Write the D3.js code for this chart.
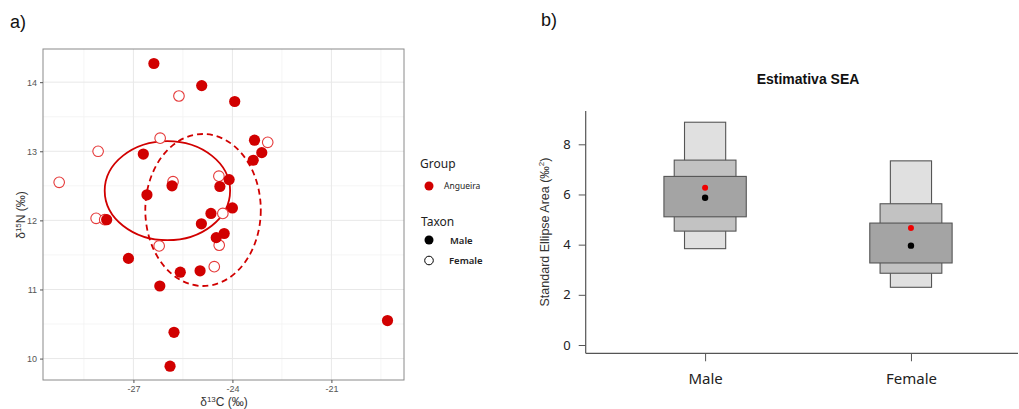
<!DOCTYPE html>
<html><head><meta charset="utf-8">
<script src="https://cdn.jsdelivr.net/npm/d3@7"></script>
<style>body{margin:0;background:#fff}svg{display:block}</style>
</head><body>
<svg id="c" width="1019" height="409"></svg>
<script>
// ---------- Panel a data ----------
const maleC = [-26.38,-24.93,-23.93,-23.33,-23.11,-23.37,-26.70,-24.10,-25.83,-24.38,-26.59,-24.00,-24.65,-27.81,-24.94,-24.25,-24.49,-27.15,-25.58,-24.98,-26.20,-19.30,-25.77,-25.89];
const maleN = [14.27,13.95,13.72,13.16,12.98,12.87,12.96,12.59,12.50,12.49,12.37,12.18,12.10,12.01,11.95,11.81,11.75,11.45,11.25,11.27,11.05,10.55,10.38,9.89];
const femaleC = [-25.62,-26.19,-28.07,-22.93,-29.25,-25.80,-24.41,-28.13,-27.87,-24.29,-26.22,-24.40,-24.55];
const femaleN = [13.80,13.19,13.00,13.13,12.55,12.56,12.64,12.03,12.01,12.10,11.63,11.64,11.33];
// standard ellipses: [centerC, centerN, semiC, semiN]
const ellipseTaxa = ["Male","Female"];
const ellipseCenterC = [-25.97,-24.89];
const ellipseCenterN = [12.43,12.15];
const ellipseSemiC = [1.90,1.75];
const ellipseSemiN = [0.717,1.10];
const xTicksA = [-27,-24,-21];
const xMinorA = [-28.5,-25.5,-22.5,-19.5];
const yTicksA = [10,11,12,13,14];
const yMinorA = [10.5,11.5,12.5,13.5];

// ---------- Panel b data ----------
const seaGroups = ["Male","Female"];
const sea95Lo = [3.84,2.30], sea95Hi = [8.88,7.34];
const sea75Lo = [4.54,2.86], sea75Hi = [7.37,5.63];
const sea50Lo = [5.11,3.27], sea50Hi = [6.72,4.86];
const seaMode = [5.87,3.96];
const seaML = [6.27,4.66];
const yTicksB = [0,2,4,6,8];

const svg = d3.select("#c");
const RED = "#d10000";

// ===== Panel a =====
const xA = d3.scaleLinear().domain([-29.74,-18.8]).range([43,404]);
const yA = d3.scaleLinear().domain([9.69,14.48]).range([380,49]);
const gA = svg.append("g");

gA.selectAll(".mnx").data(xMinorA).join("line")
  .attr("x1",d=>xA(d)).attr("x2",d=>xA(d)).attr("y1",49).attr("y2",380)
  .attr("stroke","#f3f3f3").attr("stroke-width",0.8);
gA.selectAll(".mny").data(yMinorA).join("line")
  .attr("y1",d=>yA(d)).attr("y2",d=>yA(d)).attr("x1",43).attr("x2",404)
  .attr("stroke","#f3f3f3").attr("stroke-width",0.8);
gA.selectAll(".mjx").data(xTicksA).join("line")
  .attr("x1",d=>xA(d)).attr("x2",d=>xA(d)).attr("y1",49).attr("y2",380)
  .attr("stroke","#e8e8e8").attr("stroke-width",1);
gA.selectAll(".mjy").data(yTicksA).join("line")
  .attr("y1",d=>yA(d)).attr("y2",d=>yA(d)).attr("x1",43).attr("x2",404)
  .attr("stroke","#e8e8e8").attr("stroke-width",1);

// ellipses
gA.selectAll(".ell").data(ellipseTaxa).join("ellipse")
  .attr("cx",(d,i)=>xA(ellipseCenterC[i]))
  .attr("cy",(d,i)=>yA(ellipseCenterN[i]))
  .attr("rx",(d,i)=>xA(ellipseCenterC[i]+ellipseSemiC[i])-xA(ellipseCenterC[i]))
  .attr("ry",(d,i)=>yA(ellipseCenterN[i])-yA(ellipseCenterN[i]+ellipseSemiN[i]))
  .attr("fill","none").attr("stroke",RED).attr("stroke-width",1.8)
  .attr("stroke-dasharray",(d,i)=>i===1?"6,4":null);

// points
gA.selectAll(".fem").data(femaleC).join("circle")
  .attr("cx",d=>xA(d)).attr("cy",(d,i)=>yA(femaleN[i])).attr("r",5.3)
  .attr("fill","#fff").attr("stroke","#e53a3a").attr("stroke-width",1.1);
gA.selectAll(".mal").data(maleC).join("circle")
  .attr("cx",d=>xA(d)).attr("cy",(d,i)=>yA(maleN[i])).attr("r",5.6)
  .attr("fill",RED);

gA.append("rect").attr("x",43).attr("y",49).attr("width",361).attr("height",331)
  .attr("fill","none").attr("stroke","#8a8a8a").attr("stroke-width",1);

const axXA = gA.append("g").attr("transform","translate(0,380)")
  .call(d3.axisBottom(xA).tickValues(xTicksA).tickSize(3).tickPadding(3).tickFormat(d3.format("d")));
const axYA = gA.append("g").attr("transform","translate(43,0)")
  .call(d3.axisLeft(yA).tickValues(yTicksA).tickSize(3).tickPadding(3).tickFormat(d3.format("d")));
[axXA,axYA].forEach(a=>{
  a.select(".domain").remove();
  a.selectAll(".tick line").attr("stroke","#555");
  a.selectAll("text").attr("fill","#555").attr("font-size","9px").attr("font-family","Liberation Sans, Arial, sans-serif");
});
axXA.selectAll("text").text(d=>"-"+Math.abs(d));

// axis titles a
const xt = gA.append("text").attr("x",224).attr("y",406).attr("text-anchor","middle")
  .attr("font-family","Liberation Sans, Arial, sans-serif").attr("font-size","12px").attr("fill","#333");
xt.append("tspan").text("δ");
xt.append("tspan").attr("font-size","8px").attr("dy","-4").text("13");
xt.append("tspan").attr("dy","4").text("C (‰)");
const yt = gA.append("text").attr("transform","translate(25,215) rotate(-90)").attr("text-anchor","middle")
  .attr("font-family","Liberation Sans, Arial, sans-serif").attr("font-size","12px").attr("fill","#333");
yt.append("tspan").text("δ");
yt.append("tspan").attr("font-size","8px").attr("dy","-4").text("15");
yt.append("tspan").attr("dy","4").text("N (‰)");

svg.append("text").attr("x",10).attr("y",28).text("a)")
  .attr("font-family","Liberation Sans, Arial, sans-serif").attr("font-size","18px").attr("fill","#111");

// legend a
const lg = svg.append("g").attr("font-family","Noto Sans, sans-serif").attr("fill","#222");
lg.append("text").attr("x",420).attr("y",168).attr("font-size","12px").text("Group");
lg.append("circle").attr("cx",429).attr("cy",186).attr("r",4.5).attr("fill",RED);
lg.append("text").attr("x",444).attr("y",189).attr("font-size","8.5px").text("Angueira");
lg.append("text").attr("x",421).attr("y",226).attr("font-size","12px").text("Taxon");
lg.append("circle").attr("cx",429).attr("cy",240).attr("r",4.5).attr("fill","#000");
lg.append("text").attr("x",450).attr("y",243.5).attr("font-size","9.5px").attr("font-weight","600").text("Male");
lg.append("circle").attr("cx",429).attr("cy",260.5).attr("r",4.3).attr("fill","none").attr("stroke","#000").attr("stroke-width",1);
lg.append("text").attr("x",449).attr("y",264).attr("font-size","9.5px").attr("font-weight","600").text("Female");

// ===== Panel b =====
const xB = d3.scaleLinear().domain([0.42,2.52]).range([585.7,1018]);
const yB = d3.scaleLinear().domain([0,8]).range([345,144.3]);
const gB = svg.append("g");
const idx = seaGroups.map((d,i)=>i+1);
const layers = [
  {lo:sea95Lo,hi:sea95Hi,w:0.1,fill:"#e0e0e0"},
  {lo:sea75Lo,hi:sea75Hi,w:0.15,fill:"#c2c2c2"},
  {lo:sea50Lo,hi:sea50Hi,w:0.2,fill:"#a4a4a4"}
];
layers.forEach(L=>{
  gB.selectAll(null).data(idx).join("rect")
    .attr("x",d=>xB(d-L.w)).attr("width",d=>xB(d+L.w)-xB(d-L.w))
    .attr("y",(d,i)=>yB(L.hi[i])).attr("height",(d,i)=>yB(L.lo[i])-yB(L.hi[i]))
    .attr("fill",L.fill).attr("stroke","#555").attr("stroke-width",1.1);
});
gB.selectAll(".ml").data(idx).join("circle")
  .attr("cx",d=>xB(d)).attr("cy",(d,i)=>yB(seaML[i])).attr("r",3).attr("fill","#f00000");
gB.selectAll(".md").data(idx).join("circle")
  .attr("cx",d=>xB(d)).attr("cy",(d,i)=>yB(seaMode[i])).attr("r",3.2).attr("fill","#000");

// axes b
gB.append("line").attr("x1",xB(0.42)).attr("x2",xB(0.42)).attr("y1",yB(9.33)).attr("y2",yB(-0.33))
  .attr("stroke","#555").attr("stroke-width",1.2);
gB.append("line").attr("x1",xB(0.42)).attr("x2",1018).attr("y1",yB(-0.33)).attr("y2",yB(-0.33))
  .attr("stroke","#555").attr("stroke-width",1.2);
const axYB = gB.append("g").attr("transform",`translate(${xB(0.42)},0)`)
  .call(d3.axisLeft(yB).tickValues(yTicksB).tickSize(7).tickPadding(8).tickFormat(d3.format("d")));
axYB.select(".domain").remove();
axYB.selectAll(".tick line").attr("stroke","#555");
axYB.selectAll("text").attr("font-size","13px").attr("font-family","Noto Sans, sans-serif").attr("fill","#222");
const axXB = gB.append("g").attr("transform",`translate(0,${yB(-0.33)})`)
  .call(d3.axisBottom(xB).tickValues(idx).tickSize(8).tickPadding(12).tickFormat((d)=>seaGroups[d-1]));
axXB.select(".domain").remove();
axXB.selectAll(".tick line").attr("stroke","#555");
axXB.selectAll("text").attr("font-size","15px").attr("font-family","Noto Sans, sans-serif").attr("fill","#222");

const ytB = gB.append("text").attr("transform","translate(549,232) rotate(-90)").attr("text-anchor","middle")
  .attr("font-family","Liberation Sans, Arial, sans-serif").attr("font-size","12.5px").attr("fill","#333");
ytB.append("tspan").text("Standard Ellipse Area  (‰");
ytB.append("tspan").attr("font-size","8px").attr("dy","-5").text("2");
ytB.append("tspan").attr("dy","5").text(")");

svg.append("text").attr("x",808).attr("y",84).attr("text-anchor","middle").text("Estimativa SEA")
  .attr("font-family","Liberation Sans, Arial, sans-serif").attr("font-size","14px").attr("font-weight","bold").attr("fill","#111");
svg.append("text").attr("x",541).attr("y",26).text("b)")
  .attr("font-family","Liberation Sans, Arial, sans-serif").attr("font-size","18px").attr("fill","#111");
</script>
</body></html>
